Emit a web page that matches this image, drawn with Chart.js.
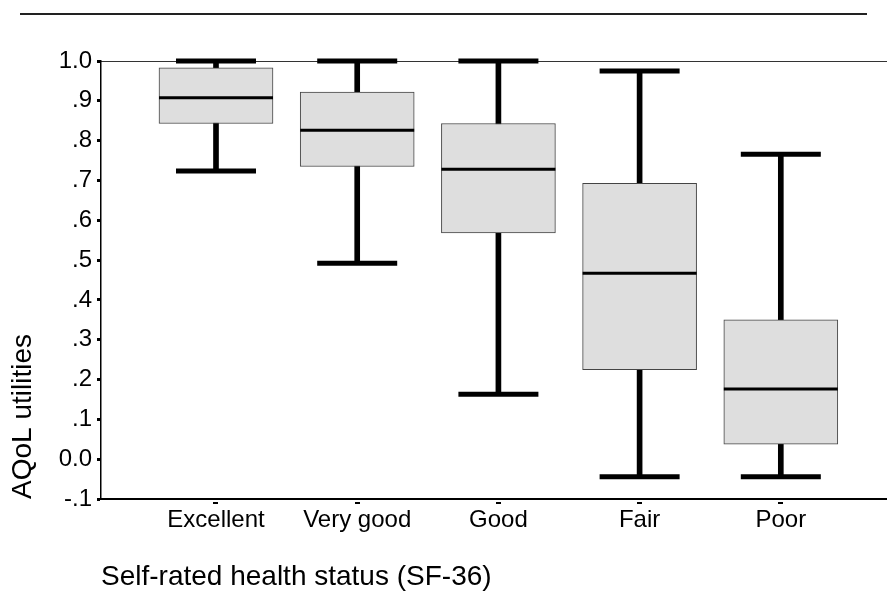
<!DOCTYPE html>
<html>
<head>
<meta charset="utf-8">
<script src="https://cdn.jsdelivr.net/npm/chart.js@4.4.1/dist/chart.umd.min.js"></script>
<style>
  html, body { margin: 0; padding: 0; background: #fff; }
  #wrap { width: 887px; height: 594px; }
</style>
</head>
<body>
<div id="wrap"><canvas id="boxChart" width="887" height="594"></canvas></div>
<script>
// Data
const categories = ["Excellent", "Very good", "Good", "Fair", "Poor"];
const whiskerLow = [0.724, 0.492, 0.163, -0.044, -0.044];
const q1 = [0.843, 0.735, 0.568, 0.225, 0.038];
const median = [0.908, 0.826, 0.728, 0.467, 0.176];
const q3 = [0.983, 0.922, 0.843, 0.693, 0.350];
const whiskerHigh = [1.0, 1.0, 1.0, 0.975, 0.766];
const yTickLabels = ["-.1", "0.0", ".1", ".2", ".3", ".4", ".5", ".6", ".7", ".8", ".9", "1.0"];

const FONT = "'Liberation Sans', Arial, sans-serif";

// Frame lines: rule at the top of the page and top edge of the plot area
const framePlugin = {
  id: "frame",
  beforeDraw(chart) {
    const ctx = chart.ctx;
    const area = chart.chartArea;
    ctx.save();
    ctx.fillStyle = "#fff";
    ctx.fillRect(0, 0, chart.width, chart.height);
    ctx.strokeStyle = "#222";
    ctx.lineWidth = 2;
    ctx.beginPath();
    ctx.moveTo(20, 14);
    ctx.lineTo(867, 14);
    ctx.stroke();
    ctx.lineWidth = 1;
    ctx.strokeStyle = "#333";
    ctx.beginPath();
    ctx.moveTo(area.left, Math.round(area.top) + 0.5);
    ctx.lineTo(chart.width, Math.round(area.top) + 0.5);
    ctx.stroke();
    ctx.restore();
  }
};

const pts = arr => arr.map((v, i) => ({ x: i, y: v }));
const ranges = (a, b) => a.map((v, i) => ({ x: i, y: [v, b[i]] }));

new Chart(document.getElementById("boxChart"), {
  data: {
    datasets: [
      {
        // medians
        type: "line",
        data: pts(median),
        showLine: false,
        pointStyle: "line",
        pointRadius: 57,
        pointHoverRadius: 57,
        pointBorderWidth: 3,
        pointBorderColor: "#000",
        clip: false
      },
      {
        // whisker caps
        type: "line",
        data: pts(whiskerLow).concat(pts(whiskerHigh)),
        showLine: false,
        pointStyle: "line",
        pointRadius: 40,
        pointHoverRadius: 40,
        pointBorderWidth: 5,
        pointBorderColor: "#000",
        clip: false
      },
      {
        // boxes
        type: "bar",
        data: ranges(q1, q3),
        backgroundColor: "#dedede",
        borderColor: "#444",
        borderWidth: 1,
        borderSkipped: false,
        barThickness: 114,
        grouped: false
      },
      {
        // whisker stems
        type: "bar",
        data: ranges(whiskerLow, whiskerHigh),
        backgroundColor: "#000",
        borderWidth: 0,
        barThickness: 5,
        grouped: false,
        clip: false
      }
    ]
  },
  options: {
    responsive: false,
    animation: false,
    events: [],
    layout: { autoPadding: false, padding: { top: 61, right: 0, bottom: 0, left: 0 } },
    plugins: {
      legend: { display: false },
      tooltip: { enabled: false }
    },
    scales: {
      x: {
        type: "linear",
        min: -0.8144,
        max: 4.752,
        offset: false,
        afterBuildTicks: s => { s.ticks = categories.map((c, i) => ({ value: i })); },
        afterFit: s => { s.height = 95; },
        border: { display: true, color: "#000", width: 2 },
        grid: {
          offset: false,
          drawOnChartArea: false,
          drawTicks: true,
          tickLength: 5,
          tickWidth: 5,
          tickColor: "#000",
          tickBorderDash: [0, 2, 3, 20]
        },
        ticks: {
          autoSkip: false,
          maxRotation: 0,
          padding: 2,
          color: "#000",
          font: { family: FONT, size: 24 },
          callback: v => categories[v]
        },
        title: {
          display: true,
          text: "Self-rated health status (SF-36)",
          align: "start",
          color: "#000",
          font: { family: FONT, size: 28 },
          padding: { top: 0, bottom: 0 }
        }
      },
      y: {
        type: "linear",
        min: -0.1,
        max: 1.0,
        afterFit: s => { s.width = 101; },
        border: { display: true, color: "#000", width: 1.5 },
        grid: {
          drawOnChartArea: false,
          drawTicks: true,
          tickLength: 4,
          tickWidth: 3,
          tickColor: "#000",
          tickBorderDash: [3, 20]
        },
        ticks: {
          stepSize: 0.1,
          padding: 5,
          color: "#000",
          font: { family: FONT, size: 24 },
          callback: (v, i) => yTickLabels[i]
        },
        title: {
          display: true,
          text: "AQoL utilities",
          align: "start",
          color: "#000",
          font: { family: FONT, size: 28 },
          padding: { top: 6, bottom: 0 }
        }
      }
    }
  },
  plugins: [framePlugin]
});
</script>
</body>
</html>
